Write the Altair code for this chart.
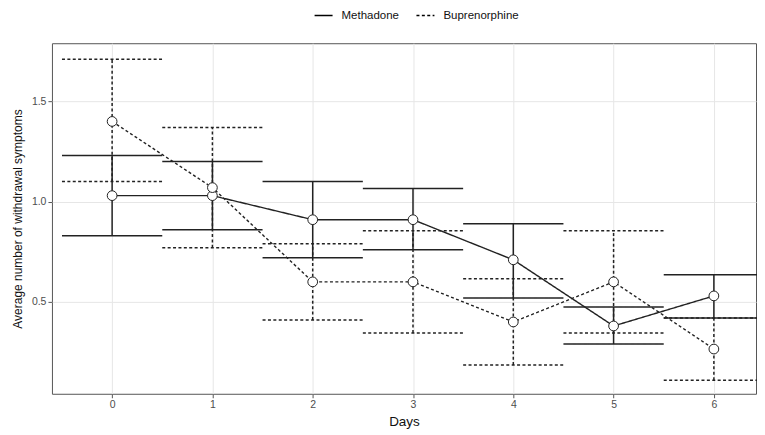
import altair as alt
import pandas as pd

days = [0, 1, 2, 3, 4, 5, 6]
groups = ["Methadone", "Buprenorphine"]
meth_mean = [1.03, 1.03, 0.91, 0.91, 0.71, 0.38, 0.53]
meth_low = [0.83, 0.86, 0.72, 0.76, 0.52, 0.29, 0.42]
meth_high = [1.23, 1.20, 1.10, 1.065, 0.89, 0.475, 0.635]
bup_mean = [1.40, 1.07, 0.60, 0.60, 0.40, 0.60, 0.265]
bup_low = [1.10, 0.77, 0.41, 0.345, 0.185, 0.345, 0.11]
bup_high = [1.71, 1.37, 0.79, 0.855, 0.615, 0.855, 0.42]
x_ticks = [0, 1, 2, 3, 4, 5, 6]
y_ticks = [0.5, 1.0, 1.5]

rows = []
for g, m, lo, hi in [(groups[0], meth_mean, meth_low, meth_high),
                     (groups[1], bup_mean, bup_low, bup_high)]:
    for d, a, b, c in zip(days, m, lo, hi):
        rows.append({"day": d, "group": g, "mean": a, "low": b, "high": c})
df = pd.DataFrame(rows)

FONT = "Liberation Sans"
INK = "#222222"

xscale = alt.Scale(domain=[-0.6, 6.42], nice=False, zero=False)
yscale = alt.Scale(domain=[0.042, 1.79], nice=False, zero=False)
dash = alt.StrokeDash(
    "group:N",
    scale=alt.Scale(domain=groups, range=[[1, 0], [3, 2.4]]),
    legend=alt.Legend(
        title=None, orient="none", direction="horizontal",
        legendX=262, legendY=-38, symbolType="stroke",
        symbolSize=324, symbolStrokeWidth=1.5, symbolStrokeColor="black",
        labelFont=FONT, labelFontSize=11.5, labelColor="#111",
        columnPadding=14, labelOffset=8,
    ),
)

xaxis = alt.Axis(values=x_ticks, title="Days", labelAngle=0, format="d",
                 titleFontSize=13.5)
yaxis = alt.Axis(values=y_ticks, title="Average number of withdrawal symptoms", format=".1f",
                 titleFontSize=12)

base = alt.Chart(df)

vbar = base.mark_rule(color=INK, strokeWidth=1.5).encode(
    x=alt.X("day:Q", scale=xscale, axis=xaxis),
    y=alt.Y("low:Q", scale=yscale, axis=yaxis),
    y2="high:Q",
    strokeDash=dash,
)

caps_hi = base.transform_calculate(x0="datum.day - 0.5", x1="datum.day + 0.5").mark_rule(
    color=INK, strokeWidth=1.5).encode(
    x=alt.X("x0:Q", scale=xscale),
    x2="x1:Q",
    y=alt.Y("high:Q", scale=yscale),
    strokeDash=dash,
)
caps_lo = base.transform_calculate(x0="datum.day - 0.5", x1="datum.day + 0.5").mark_rule(
    color=INK, strokeWidth=1.5).encode(
    x=alt.X("x0:Q", scale=xscale),
    x2="x1:Q",
    y=alt.Y("low:Q", scale=yscale),
    strokeDash=dash,
)

line = base.mark_line(color=INK, strokeWidth=1.4).encode(
    x=alt.X("day:Q", scale=xscale),
    y=alt.Y("mean:Q", scale=yscale),
    strokeDash=dash,
    detail="group:N",
)

pts = base.mark_point(shape="circle", filled=False, fill="white", fillOpacity=1,
                      stroke=INK, strokeWidth=1, size=95, opacity=1).encode(
    x=alt.X("day:Q", scale=xscale),
    y=alt.Y("mean:Q", scale=yscale),
)

chart = alt.layer(vbar, caps_hi, caps_lo, line, pts).properties(
    width=705, height=351,
    autosize=alt.AutoSizeParams(type="none"),
    padding={"left": 44, "top": 35, "right": 1, "bottom": 36},
).configure_view(
    stroke="#555555", strokeWidth=1
).configure_axis(
    domain=False, grid=True, gridColor="#e6e6e6", gridWidth=1,
    tickColor="#555", tickSize=4, labelColor="#4d4d4d", labelFontSize=10.5,
    labelFont=FONT, titleFont=FONT, titleFontWeight="normal",
    titleColor="#111", labelPadding=2,
).configure_axisY(
    titlePadding=7,
).configure_axisX(
    titlePadding=4,
)

chart.save("out.html", embed_options={"renderer": "svg", "actions": False})
